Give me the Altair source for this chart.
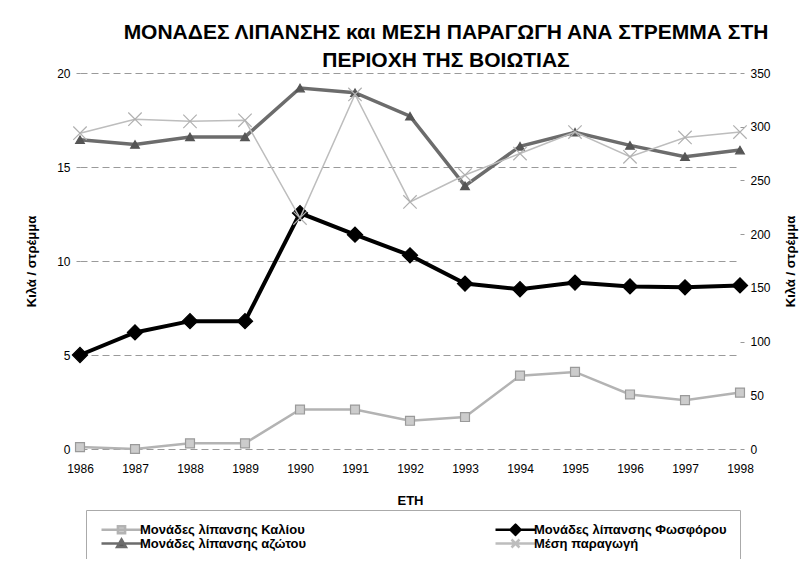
import altair as alt
import pandas as pd

# ---------------- data ----------------
years = [1986, 1987, 1988, 1989, 1990, 1991, 1992, 1993, 1994, 1995, 1996, 1997, 1998]
kalio = [0.1, 0.0, 0.3, 0.3, 2.1, 2.1, 1.5, 1.7, 3.9, 4.1, 2.9, 2.6, 3.0]
fosforo = [5.0, 6.2, 6.8, 6.8, 12.55, 11.4, 10.3, 8.8, 8.5, 8.85, 8.65, 8.6, 8.7]
azoto = [16.45, 16.2, 16.6, 16.6, 19.2, 18.95, 17.7, 14.0, 16.1, 16.85, 16.15, 15.55, 15.9]
paragogi = [294, 307, 305, 306, 215, 330, 230, 255, 275, 295, 272, 290, 295]

series_names = [
    "Μονάδες λίπανσης Καλίου",
    "Μονάδες λίπανσης Φωσφόρου",
    "Μονάδες λίπανσης αζώτου",
    "Μέση παραγωγή",
]
line_colors = ["#b3b3b3", "#000000", "#6c6c6c", "#bdbdbd"]
line_widths = [2.5, 4.0, 3.5, 1.5]
marker_fill = ["#cccccc", "#000000", "#555555", "transparent"]
marker_stroke = ["#9a9a9a", "#000000", "#555555", "#b0b0b0"]
marker_shapes = ["square", "diamond", "triangle-up", "M-1,-1L1,1M-1,1L1,-1"]
marker_sizes = [80, 230, 75, 180]
legend_paths = [
    "M-5,0L5,0M-0.9,-0.9L0.9,-0.9L0.9,0.9L-0.9,0.9Z",
    "M-5,0L5,0M0,-1.25L1.25,0L0,1.25L-1.25,0Z",
    "M-5,0L5,0M0,-1L1.1,0.9L-1.1,0.9Z",
    "M-5,0L5,0M-1,-1L1,1M-1,1L1,-1",
]
# legend entries are laid out column by column
legend_order = [0, 2, 1, 3]

title_lines = [
    "ΜΟΝΑΔΕΣ ΛΙΠΑΝΣΗΣ και ΜΕΣΗ ΠΑΡΑΓΩΓΗ ΑΝΑ ΣΤΡΕΜΜΑ ΣΤΗ",
    "ΠΕΡΙΟΧΗ ΤΗΣ ΒΟΙΩΤΙΑΣ",
]
x_title = "ΕΤΗ"
y_title = "Κιλά / στρέμμα"
left_ticks = [0, 5, 10, 15, 20]
right_ticks = [0, 50, 100, 150, 200, 250, 300, 350]

rows = []
for name, vals in zip(series_names, [kalio, fosforo, azoto, paragogi]):
    for yr, v in zip(years, vals):
        rows.append({"year": yr, "series": name, "value": v})
df = pd.DataFrame(rows)

FONT = "Liberation Sans, Arial, sans-serif"

x_enc = alt.X(
    "year:Q",
    scale=alt.Scale(domain=[years[0], years[-1]], nice=False, zero=False),
    axis=alt.Axis(values=years, format="d", title=x_title, grid=False, domain=False,
                  ticks=False, labelPadding=14, titlePadding=20, labelFlush=False,
                  labelOverlap=False),
)
y_left = alt.Y(
    "value:Q",
    scale=alt.Scale(domain=[0, 20], nice=False),
    axis=alt.Axis(orient="left", values=left_ticks, title=y_title, grid=True,
                  gridColor="#9a9a9a", gridDash=[7, 4], domain=False, tickSize=4,
                  tickColor="#999999", labelPadding=6, titlePadding=18),
)
y_right = alt.Y(
    "value:Q",
    scale=alt.Scale(domain=[0, 350], nice=False),
    axis=alt.Axis(orient="right", values=right_ticks, title=y_title, titleAngle=270,
                  titleBaseline="top", grid=False, domain=False, tickSize=4,
                  tickColor="#999999", labelPadding=6, titlePadding=14),
)

base = alt.Chart(df)


def series_layers(i, y_enc):
    name = series_names[i]
    d = base.transform_filter(alt.datum.series == name)
    line = d.mark_line(color=line_colors[i], strokeWidth=line_widths[i]).encode(x=x_enc, y=y_enc)
    pts = d.mark_point(
        shape=marker_shapes[i], size=marker_sizes[i], fill=marker_fill[i],
        stroke=marker_stroke[i], strokeWidth=1.2, opacity=1, filled=(i != 3),
    ).encode(x=x_enc, y=y_enc)
    return [line, pts]


leg = alt.Legend(
    title=None, orient="none", legendX=6, legendY=437, columns=2,
    symbolSize=64, symbolStrokeWidth=2.5, symbolOffset=16, labelOffset=12,
    columnPadding=186, rowPadding=0, padding=13, strokeColor="#aaaaaa",
    clipHeight=13,
    labelFont=FONT, labelFontSize=13, labelFontWeight="bold", labelColor="black",
    labelLimit=400,
)

leg_domain = [series_names[k] for k in legend_order]
leg_fill = [marker_fill[k] for k in legend_order]
leg_stroke = [line_colors[k] for k in legend_order]
leg_shape = [legend_paths[k] for k in legend_order]

legend_layer = base.transform_filter("datum.value < -1000").mark_point(
    size=64, strokeWidth=2.5, opacity=1
).encode(
    x=x_enc, y=y_left,
    fill=alt.Fill("series:N", scale=alt.Scale(domain=leg_domain, range=leg_fill), legend=leg),
    stroke=alt.Stroke("series:N", scale=alt.Scale(domain=leg_domain, range=leg_stroke), legend=leg),
    shape=alt.Shape("series:N", scale=alt.Scale(domain=leg_domain, range=leg_shape), legend=leg),
)

left_layers = []
for i in range(3):
    left_layers += series_layers(i, y_left)
left = alt.layer(*left_layers, legend_layer)
right = alt.layer(*series_layers(3, y_right))

chart = alt.layer(left, right).resolve_scale(y="independent").properties(
    width=660,
    height=376,
    title=alt.TitleParams(text=title_lines, font=FONT, fontSize=21, fontWeight="bold",
                          anchor="middle", frame="group", dx=36, offset=-4,
                          lineHeight=28, color="black"),
    padding={"left": 72, "top": 65, "right": 60, "bottom": 110},
    autosize=alt.AutoSizeParams(type="none"),
).configure_axis(
    labelFont=FONT, titleFont=FONT, labelFontSize=12, titleFontSize=13,
    titleFontWeight="bold", labelColor="black", titleColor="black",
).configure_view(stroke=None)

chart.save("out.html", embed_options={"renderer": "svg", "actions": False})
